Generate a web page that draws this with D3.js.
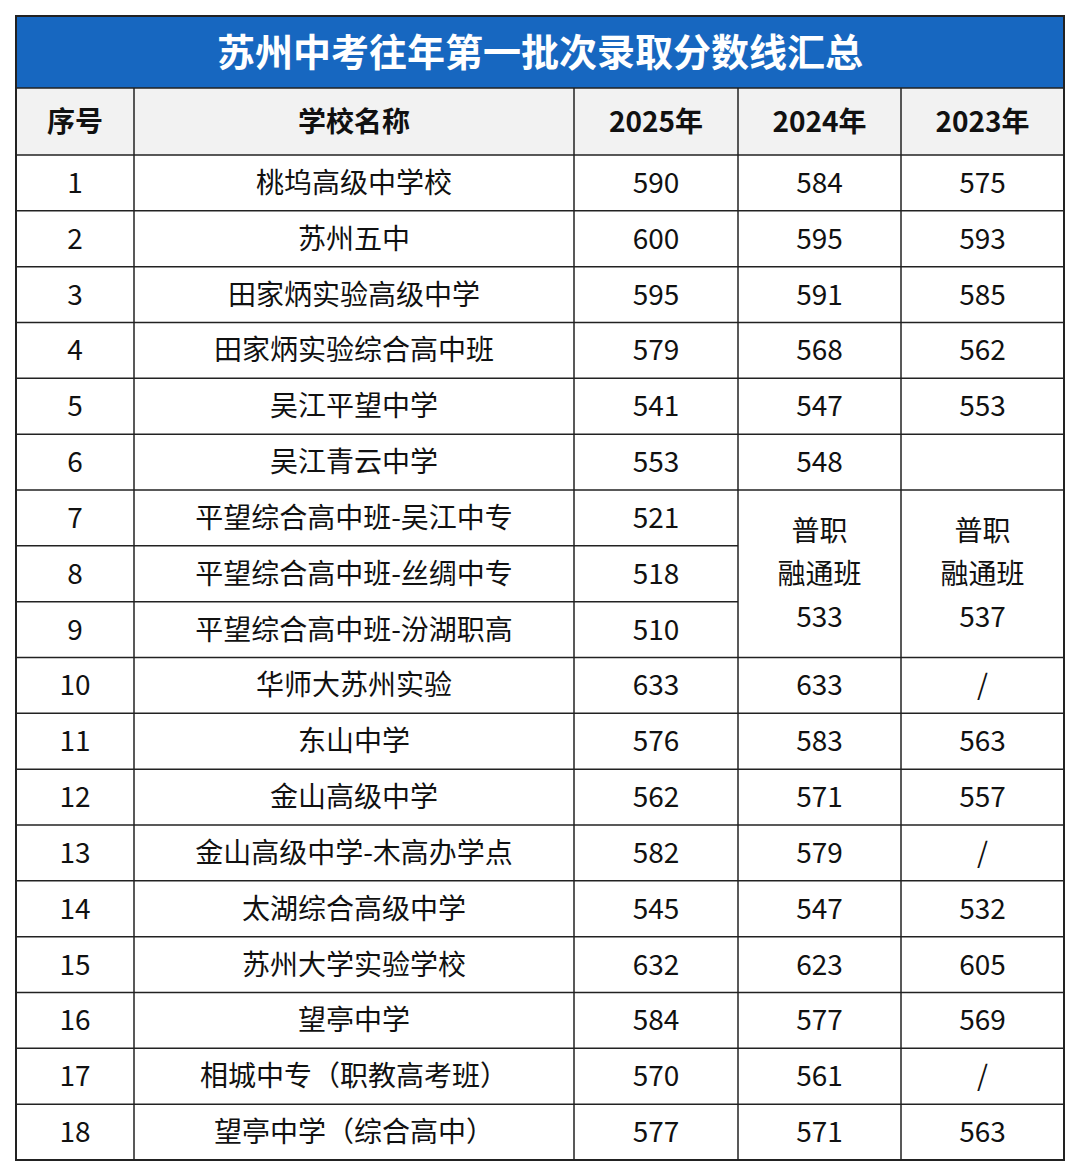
<!DOCTYPE html>
<html><head><meta charset="utf-8">
<script src="https://cdn.jsdelivr.net/npm/d3@7"></script>
<style>body{margin:0;background:#fff;}svg{display:block;font-family:"Noto Sans CJK SC","Noto Sans",sans-serif;}</style>
</head><body>
<script>
const title = "苏州中考往年第一批次录取分数线汇总";
const headers = ["序号","学校名称","2025年","2024年","2023年"];
const schools = ["桃坞高级中学校","苏州五中","田家炳实验高级中学","田家炳实验综合高中班","吴江平望中学","吴江青云中学","平望综合高中班-吴江中专","平望综合高中班-丝绸中专","平望综合高中班-汾湖职高","华师大苏州实验","东山中学","金山高级中学","金山高级中学-木高办学点","太湖综合高级中学","苏州大学实验学校","望亭中学","相城中专（职教高考班）","望亭中学（综合高中）"];
const y2025 = ["590","600","595","579","541","553","521","518","510","633","576","562","582","545","632","584","570","577"];
const y2024 = ["584","595","591","568","547","548",null,null,null,"633","583","571","579","547","623","577","561","571"];
const y2023 = ["575","593","585","562","553","",null,null,null,"/","563","557","/","532","605","569","/","563"];
const merged = [{rows:[6,8], col:3, lines:["普职","融通班","533"]},{rows:[6,8], col:4, lines:["普职","融通班","537"]}];

(function(){
const W=1080,H=1176, L=16, R=1064, T=16, titleH=72, headH=67, B=1160;
const colEdges=[16,134,574,738,901,1064];
const n=schools.length;
const svg=d3.select("body").append("svg").attr("width",W).attr("height",H);
const y=d3.scaleLinear().domain([0,n]).range([T+titleH+headH,B]);
const rh=y(1)-y(0);
const cx=i=>(colEdges[i]+colEdges[i+1])/2;

svg.append("rect").attr("x",L).attr("y",T).attr("width",R-L).attr("height",titleH).attr("fill","#1767c0");
svg.append("text").attr("x",(L+R)/2).attr("y",T+titleH/2).attr("dy","0.36em").attr("text-anchor","middle")
 .attr("fill","#fff").attr("font-size",38).attr("font-weight","bold").text(title);
svg.append("rect").attr("x",L).attr("y",T+titleH).attr("width",R-L).attr("height",headH).attr("fill","#f2f2f2");
headers.forEach((h,i)=>svg.append("text").attr("x",cx(i)).attr("y",T+titleH+headH/2).attr("dy","0.36em")
 .attr("text-anchor","middle").attr("font-size",28).attr("font-weight","bold").attr("fill","#111").text(h));

const rows=schools.map((s,i)=>[String(i+1),s,y2025[i],y2024[i],y2023[i]]);
rows.forEach((r,i)=>r.forEach((v,j)=>{ if(v==null) return;
 svg.append("text").attr("x",cx(j)).attr("y",y(i)+rh/2).attr("dy","0.36em").attr("text-anchor","middle")
  .attr("font-size",28).attr("fill","#111").text(v);}));
merged.forEach(m=>{
 const c=(y(m.rows[0])+y(m.rows[1]+1))/2;
 m.lines.forEach((t,k)=>svg.append("text").attr("x",cx(m.col)).attr("y",c+(k-1)*43).attr("dy","0.36em")
  .attr("text-anchor","middle").attr("font-size",28).attr("fill","#111").text(t));
});
const g=svg.append("g").attr("stroke","#222").attr("stroke-width",1.5);
g.append("rect").attr("x",L).attr("y",T).attr("width",R-L).attr("height",B-T).attr("fill","none").attr("stroke-width",2);
g.append("line").attr("x1",L).attr("x2",R).attr("y1",T+titleH).attr("y2",T+titleH);
for(let i=0;i<n;i++){
 const yy=y(i);
 const inMerge = i>=7 && i<=8;
 g.append("line").attr("x1",L).attr("x2",inMerge?colEdges[3]:R).attr("y1",yy).attr("y2",yy);
}
colEdges.slice(1,-1).forEach(x=>g.append("line").attr("x1",x).attr("x2",x).attr("y1",T+titleH).attr("y2",B));
})();
</script>
</body></html>
